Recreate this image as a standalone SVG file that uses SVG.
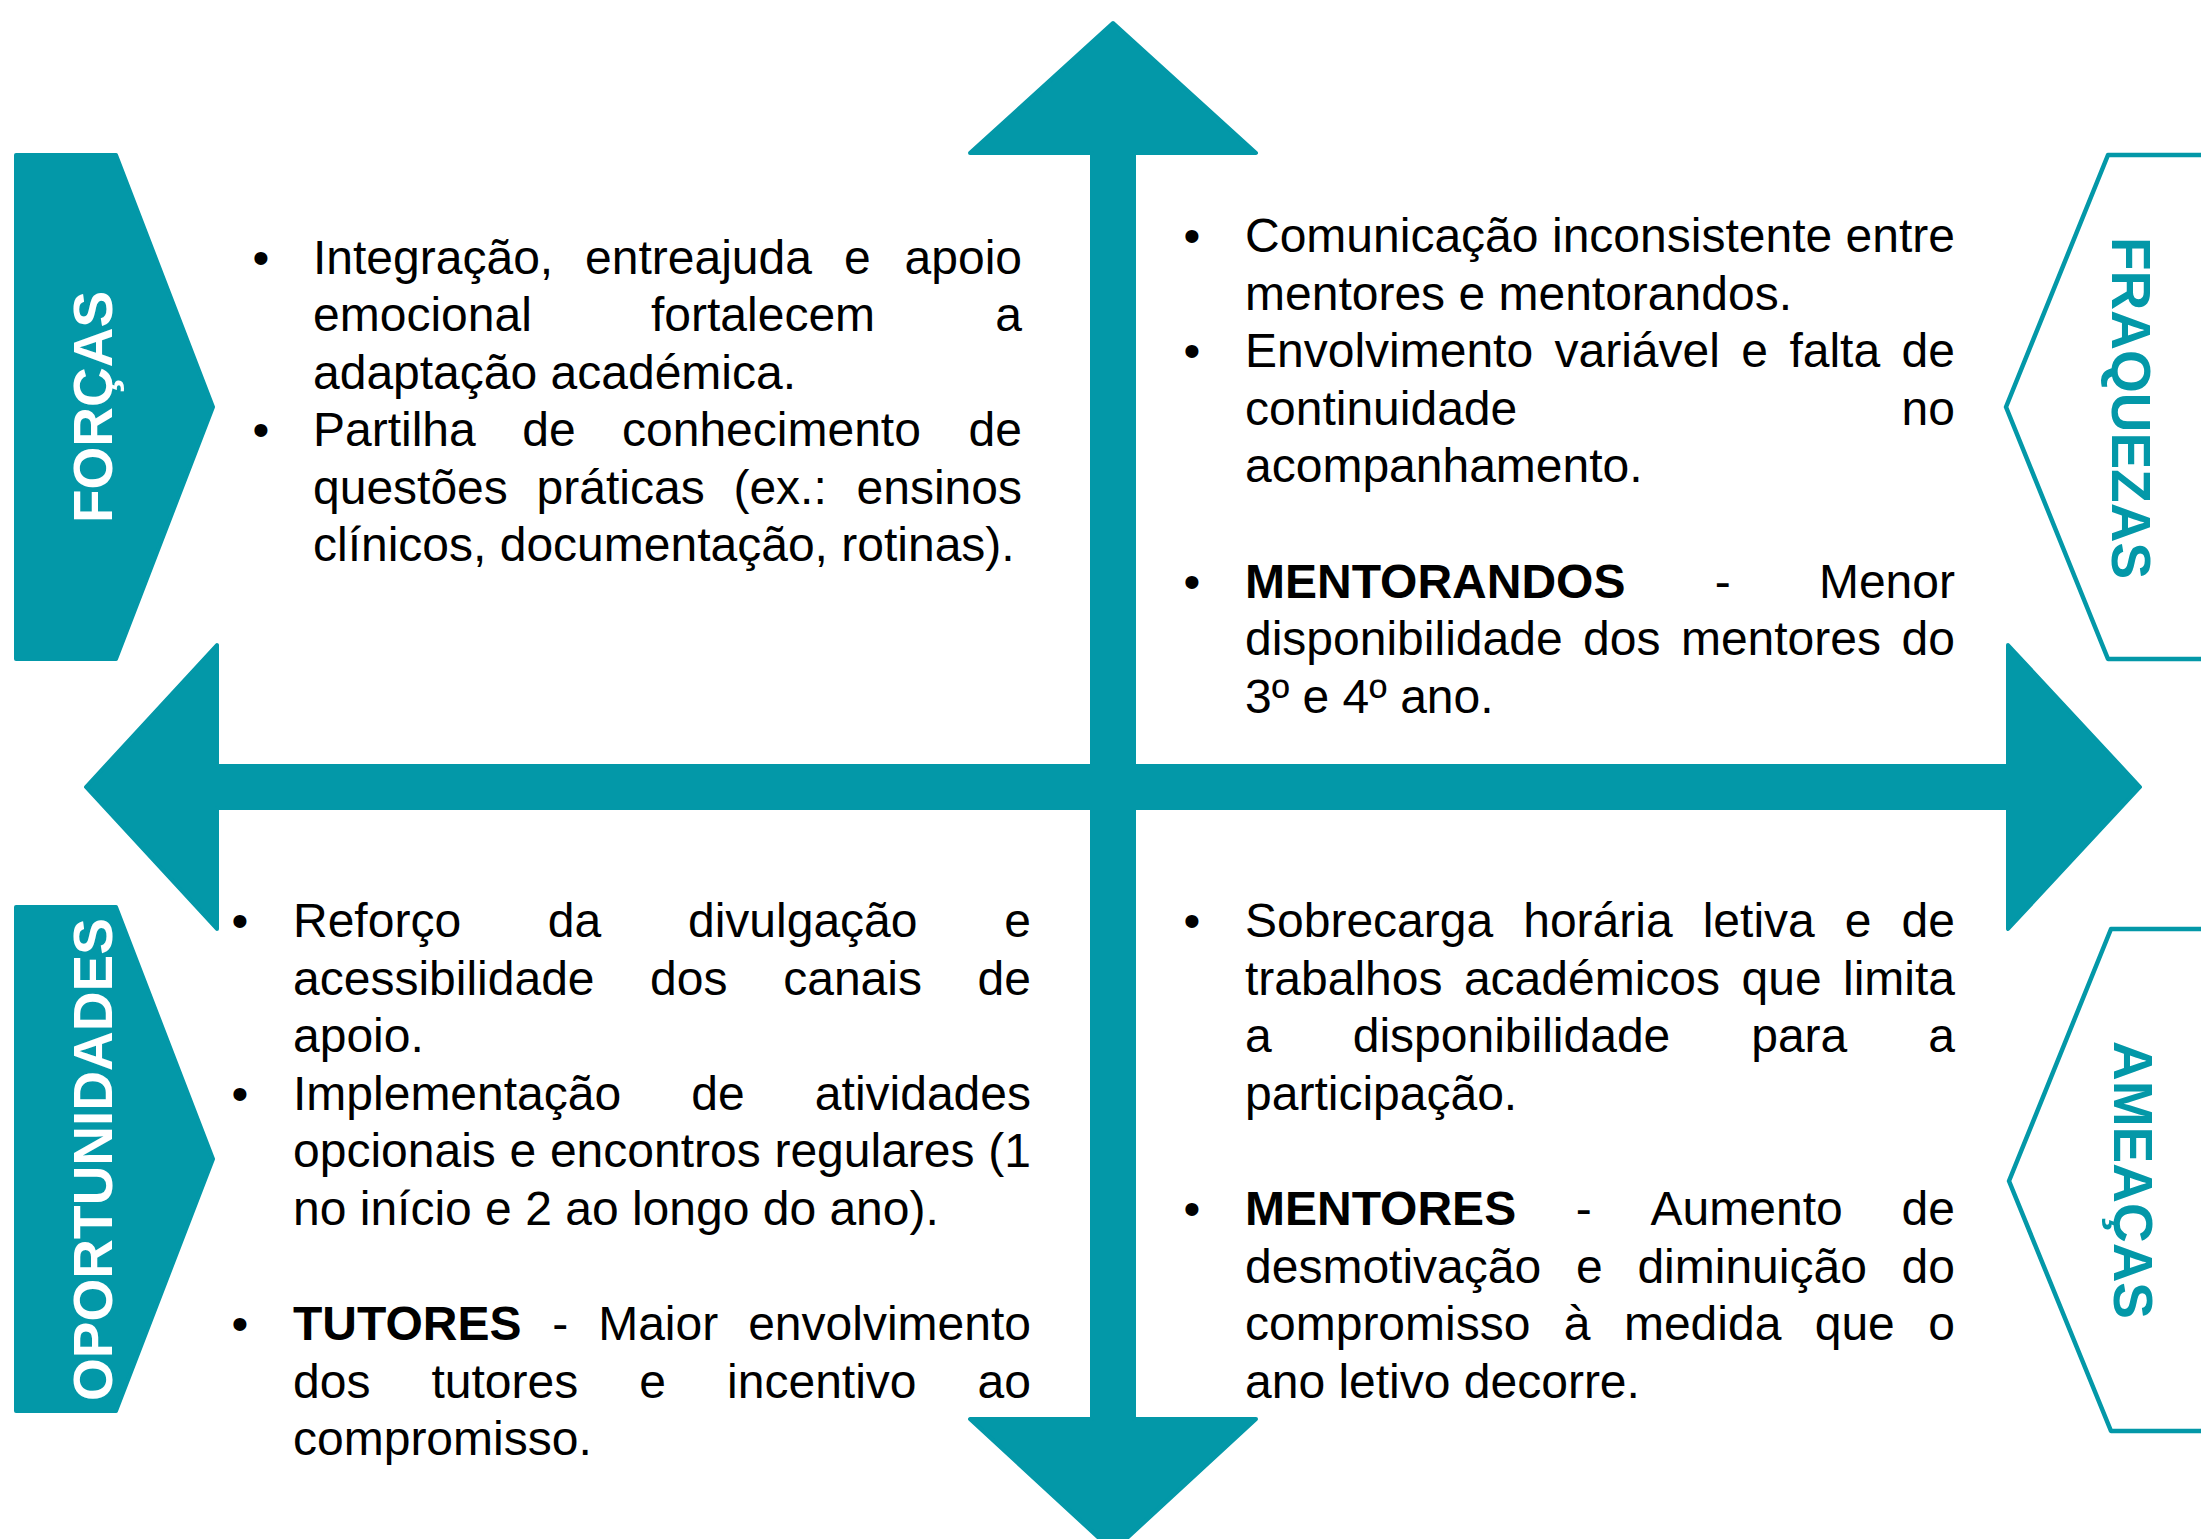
<svg xmlns="http://www.w3.org/2000/svg" width="2201" height="1539" viewBox="0 0 2201 1539">
<style>
.t{font-family:"Liberation Sans",Arial,sans-serif;font-size:48px;fill:#000}
.b{font-weight:bold}
.lbl{font-family:"Liberation Sans",Arial,sans-serif;font-size:55px;font-weight:bold;text-anchor:middle}
.fill{fill:#0398A8;stroke:#0398A8;stroke-width:4;stroke-linejoin:round}
.out{fill:none;stroke:#0398A8;stroke-width:4.5;stroke-linejoin:round}
.e{text-anchor:end}
.m{text-anchor:middle}
</style>
<rect width="2201" height="1539" fill="#fff"/>
<g id="connectors">
<polygon class="fill" points="1113,23 1256,153 1134,153 1134,1419 1256,1419 1113,1551 970,1419 1092,1419 1092,153 970,153"/>
<polygon class="fill" points="86,787 217,645 217,766 2008,766 2008,645 2140,787 2008,929 2008,808 217,808 217,929"/>
</g>
<g id="forcas">
<polygon class="fill" points="16,155 116,155 213,407 116,659 16,659"/>
<text class="lbl" fill="#fff" transform="translate(112,407) rotate(-90)">FORÇAS</text>
</g>
<g id="fraquezas">
<polygon class="out" points="2210,155 2108,155 2006,407 2108,659 2210,659"/>
<text class="lbl" fill="#0398A8" transform="translate(2112,408) rotate(90)">FRAQUEZAS</text>
</g>
<g id="oportunidades">
<polygon class="fill" points="16,907 116,907 213,1159 116,1411 16,1411"/>
<text class="lbl" fill="#fff" transform="translate(112,1159.5) rotate(-90)">OPORTUNIDADES</text>
</g>
<g id="ameacas">
<polygon class="out" points="2210,929 2111,929 2009,1181 2111,1431 2210,1431"/>
<text class="lbl" fill="#0398A8" transform="translate(2114,1180) rotate(90)">AMEAÇAS</text>
</g>
<g id="forcas-text" transform="translate(0,2.5)">
<text class="t m" x="261" y="271">•</text>
<text class="t m" x="261" y="443.5">•</text>
<text class="t" y="271"><tspan x="313">Integração,</tspan><tspan x="585.1">entreajuda</tspan><tspan x="844">e</tspan><tspan x="1022" class="e">apoio</tspan></text>
<text class="t" y="328.5"><tspan x="313">emocional</tspan><tspan x="651">fortalecem</tspan><tspan x="1022" class="e">a</tspan></text>
<text class="t" x="313" y="386">adaptação académica.</text>
<text class="t" y="443.5"><tspan x="313">Partilha</tspan><tspan x="522.2">de</tspan><tspan x="622">conhecimento</tspan><tspan x="1022" class="e">de</tspan></text>
<text class="t" y="501"><tspan x="313">questões</tspan><tspan x="536.6">práticas</tspan><tspan x="733.4">(ex.:</tspan><tspan x="1022" class="e">ensinos</tspan></text>
<text class="t" x="313" y="558.5">clínicos, documentação, rotinas).</text>
</g>
<g id="fraquezas-text" transform="translate(0,4)">
<text class="t m" x="1192" y="248">•</text>
<text class="t m" x="1192" y="363.2">•</text>
<text class="t m" x="1192" y="593.6">•</text>
<text class="t" y="248"><tspan x="1245">Comunicação</tspan><tspan x="1552">inconsistente</tspan><tspan x="1955" class="e">entre</tspan></text>
<text class="t" x="1245" y="305.6">mentores e mentorandos.</text>
<text class="t" y="363.2"><tspan x="1245">Envolvimento</tspan><tspan x="1554.5">variável</tspan><tspan x="1741.3">e</tspan><tspan x="1789.4">falta</tspan><tspan x="1955" class="e">de</tspan></text>
<text class="t" y="420.8"><tspan x="1245">continuidade</tspan><tspan x="1955" class="e">no</tspan></text>
<text class="t" x="1245" y="478.4">acompanhamento.</text>
<text class="t" y="593.6"><tspan x="1245" class="b">MENTORANDOS</tspan><tspan x="1714.7">-</tspan><tspan x="1955" class="e">Menor</tspan></text>
<text class="t" y="651.2"><tspan x="1245">disponibilidade</tspan><tspan x="1583">dos</tspan><tspan x="1680.9">mentores</tspan><tspan x="1955" class="e">do</tspan></text>
<text class="t" x="1245" y="708.8">3º e 4º ano.</text>
</g>
<g id="oportunidades-text" transform="translate(0,4)">
<text class="t m" x="240" y="933">•</text>
<text class="t m" x="240" y="1105.8">•</text>
<text class="t m" x="240" y="1336.2">•</text>
<text class="t" y="933"><tspan x="293">Reforço</tspan><tspan x="547.8">da</tspan><tspan x="688">divulgação</tspan><tspan x="1031" class="e">e</tspan></text>
<text class="t" y="990.6"><tspan x="293">acessibilidade</tspan><tspan x="650.1">dos</tspan><tspan x="783.2">canais</tspan><tspan x="1031" class="e">de</tspan></text>
<text class="t" x="293" y="1048.2">apoio.</text>
<text class="t" y="1105.8"><tspan x="293">Implementação</tspan><tspan x="691.3">de</tspan><tspan x="1031" class="e">atividades</tspan></text>
<text class="t" y="1163.4"><tspan x="293">opcionais</tspan><tspan x="509.5">e</tspan><tspan x="549.9">encontros</tspan><tspan x="774.4">regulares</tspan><tspan x="1031" class="e">(1</tspan></text>
<text class="t" x="293" y="1221">no início e 2 ao longo do ano).</text>
<text class="t" y="1336.2"><tspan x="293" class="b">TUTORES</tspan><tspan x="552.3">-</tspan><tspan x="598.2">Maior</tspan><tspan x="1031" class="e">envolvimento</tspan></text>
<text class="t" y="1393.8"><tspan x="293">dos</tspan><tspan x="431.5">tutores</tspan><tspan x="639.3">e</tspan><tspan x="727.1">incentivo</tspan><tspan x="1031" class="e">ao</tspan></text>
<text class="t" x="293" y="1451.4">compromisso.</text>
</g>
<g id="ameacas-text" transform="translate(0,4)">
<text class="t m" x="1192" y="933">•</text>
<text class="t m" x="1192" y="1221">•</text>
<text class="t" y="933"><tspan x="1245">Sobrecarga</tspan><tspan x="1523.2">horária</tspan><tspan x="1702.7">letiva</tspan><tspan x="1844.8">e</tspan><tspan x="1955" class="e">de</tspan></text>
<text class="t" y="990.6"><tspan x="1245">trabalhos</tspan><tspan x="1463.9">académicos</tspan><tspan x="1741.5">que</tspan><tspan x="1955" class="e">limita</tspan></text>
<text class="t" y="1048.2"><tspan x="1245">a</tspan><tspan x="1352.7">disponibilidade</tspan><tspan x="1751.2">para</tspan><tspan x="1955" class="e">a</tspan></text>
<text class="t" x="1245" y="1105.8">participação.</text>
<text class="t" y="1221"><tspan x="1245" class="b">MENTORES</tspan><tspan x="1575.8">-</tspan><tspan x="1650.6">Aumento</tspan><tspan x="1955" class="e">de</tspan></text>
<text class="t" y="1278.6"><tspan x="1245">desmotivação</tspan><tspan x="1575.9">e</tspan><tspan x="1637.4">diminuição</tspan><tspan x="1955" class="e">do</tspan></text>
<text class="t" y="1336.2"><tspan x="1245">compromisso</tspan><tspan x="1563.8">à</tspan><tspan x="1623.9">medida</tspan><tspan x="1814.7">que</tspan><tspan x="1955" class="e">o</tspan></text>
<text class="t" x="1245" y="1393.8">ano letivo decorre.</text>
</g>
</svg>
